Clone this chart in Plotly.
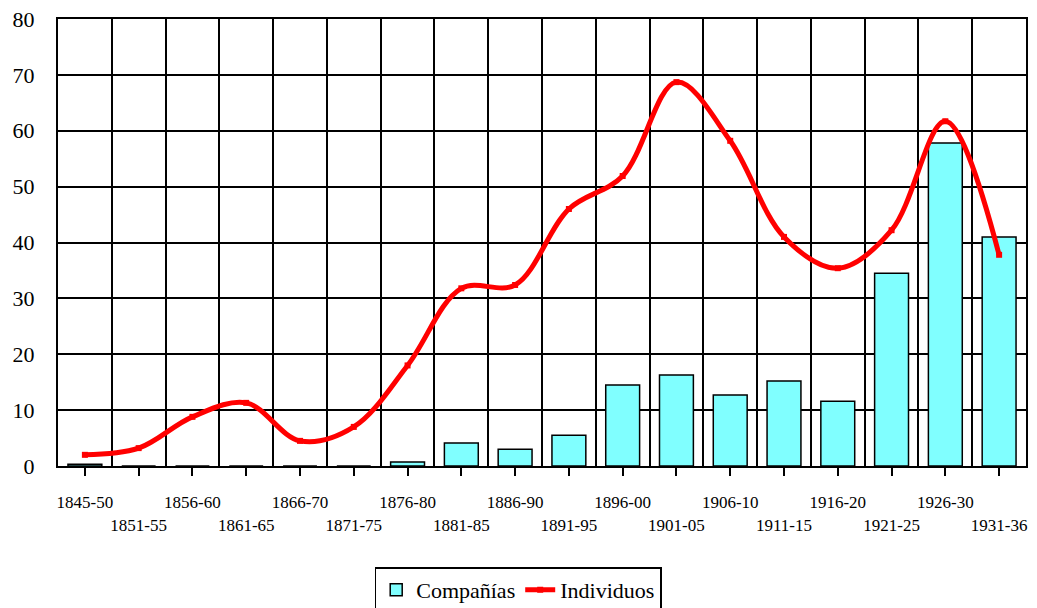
import plotly.graph_objects as go

periodos = ["1845-50", "1851-55", "1856-60", "1861-65", "1866-70", "1871-75",
            "1876-80", "1881-85", "1886-90", "1891-95", "1896-00", "1901-05",
            "1906-10", "1911-15", "1916-20", "1921-25", "1926-30", "1931-36"]
companias = [0.3, 0, 0, 0, 0, 0, 0.7, 4.1, 3.0, 5.5, 14.5, 16.3, 12.7, 15.2, 11.6, 34.5, 57.8, 41.0]
individuos = [2.0, 3.2, 8.8, 11.3, 4.5, 7.0, 18.0, 31.8, 32.4, 46.0, 51.9, 68.7, 58.2, 41.0, 35.4, 42.2, 61.7, 37.8]
y_ticks = [0, 10, 20, 30, 40, 50, 60, 70, 80]

tick_text = [p if i % 2 == 0 else "<br>" + p for i, p in enumerate(periodos)]

FONT = "Liberation Serif"

fig = go.Figure()
fig.add_trace(go.Bar(
    x=periodos, y=companias, name="Compañías",
    marker=dict(color="#80FFFF", line=dict(color="black", width=1.5)),
    xaxis="x", yaxis="y",
))
fig.add_trace(go.Scatter(
    x=periodos, y=individuos, name="Individuos", mode="lines+markers",
    line=dict(color="#FF0000", width=5, shape="spline", smoothing=1.0),
    marker=dict(color="#FF0000", size=6, symbol="square"),
    xaxis="x2", yaxis="y",
))

fig.update_layout(
    width=1037, height=608,
    margin=dict(l=50, r=19, t=11, b=150, autoexpand=False),
    paper_bgcolor="white", plot_bgcolor="white",
    bargap=0.37,
    font=dict(family=FONT, color="black"),
    showlegend=True,
    legend=dict(
        orientation="h", xref="container", yref="container",
        x=0.492, xanchor="center", y=0.08, yanchor="top",
        font=dict(family=FONT, size=22, color="black"),
        bordercolor="black", borderwidth=1.5, bgcolor="white",
        tracegroupgap=0, itemwidth=30,
    ),
    xaxis=dict(
        type="category", categoryorder="array", categoryarray=periodos,
        range=[-0.5, 17.5], automargin=False,
        tickson="boundaries", showgrid=True, gridcolor="black", gridwidth=1.5,
        ticks="", showticklabels=False,
        showline=True, linecolor="black", linewidth=2, mirror=True,
        zeroline=False,
    ),
    xaxis2=dict(
        type="category", categoryorder="array", categoryarray=periodos,
        range=[-0.5, 17.5], overlaying="x", side="bottom", anchor="y",
        automargin=False,
        showgrid=False, ticks="outside", ticklen=9, tickwidth=1.5, tickcolor="black",
        tickvals=periodos, ticktext=tick_text, tickangle=0,
        tickfont=dict(family=FONT, size=17, color="black"),
        ticklabelstandoff=12, ticklabeloverflow="allow",
        showline=False, zeroline=False,
    ),
    yaxis=dict(
        range=[0, 80], tickvals=y_ticks, automargin=False,
        showgrid=True, gridcolor="black", gridwidth=1.5,
        ticks="", tickfont=dict(family=FONT, size=22, color="black"),
        showline=True, linecolor="black", linewidth=2, mirror=True,
        zeroline=False, ticklabelstandoff=17, ticklabeloverflow="allow",
    ),
)

fig.write_html("out.html")
